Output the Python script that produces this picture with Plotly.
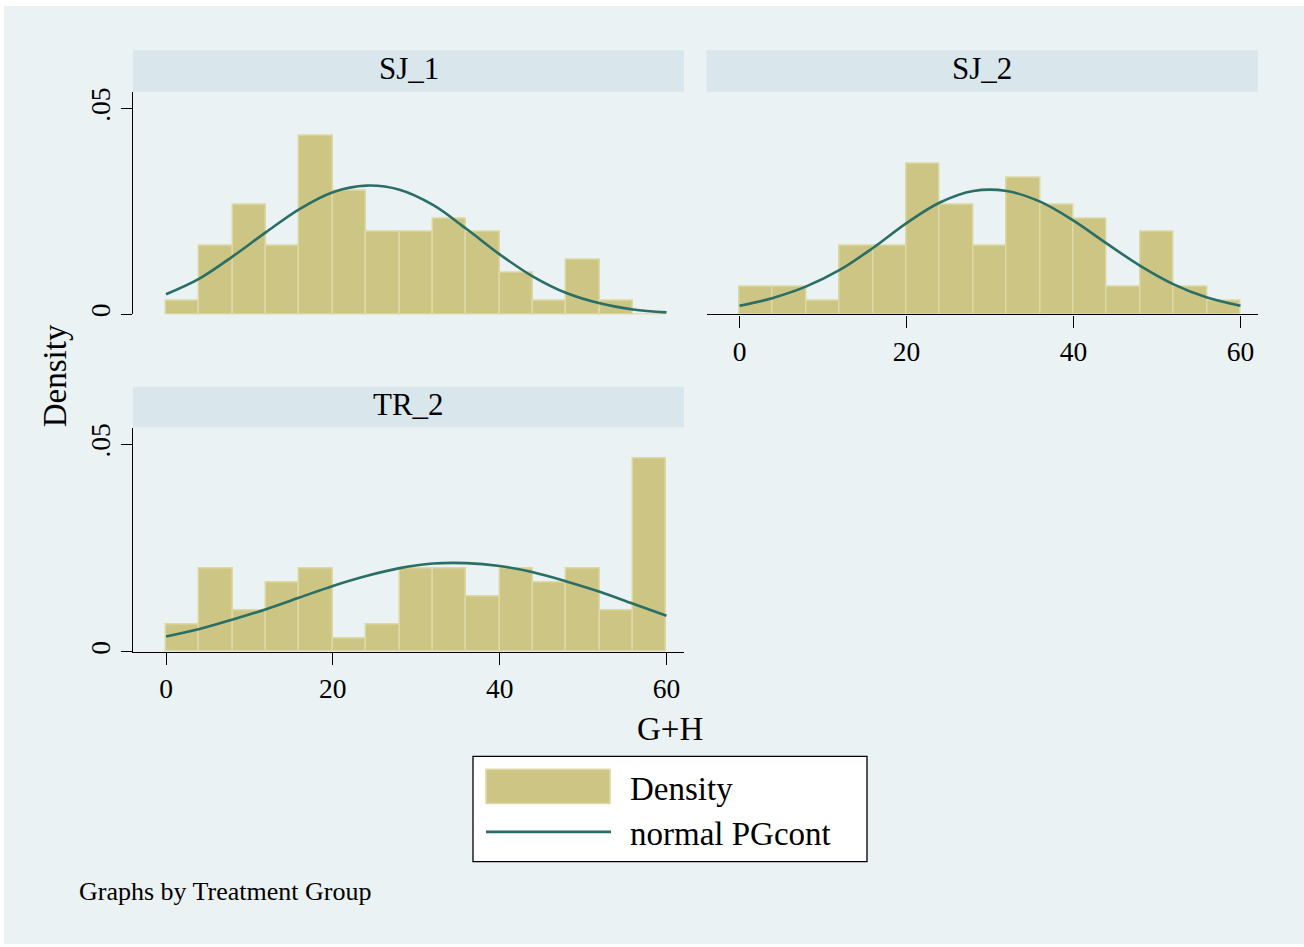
import plotly.graph_objects as go

# ---------------- data ----------------
bin_left = [0, 4, 8, 12, 16, 20, 24, 28, 32, 36, 40, 44, 48, 52, 56]
bin_width = 4
panels = ["SJ_1", "SJ_2", "TR_2"]

dens_sj1 = [0.0033, 0.0167, 0.0267, 0.0167, 0.0433, 0.0300, 0.0200, 0.0200,
            0.0233, 0.0200, 0.0100, 0.0033, 0.0133, 0.0033, 0.0]
dens_sj2 = [0.0067, 0.0067, 0.0033, 0.0167, 0.0167, 0.0367, 0.0267, 0.0167,
            0.0333, 0.0267, 0.0233, 0.0067, 0.0200, 0.0067, 0.0033]
dens_tr2 = [0.0067, 0.0200, 0.0100, 0.0167, 0.0200, 0.0033, 0.0067, 0.0200,
            0.0200, 0.0133, 0.0200, 0.0167, 0.0200, 0.0100, 0.0467]

curve_x = [0, 4, 8, 12, 16, 20, 24, 28, 32, 36, 40, 44, 48, 52, 56, 60]
curve_sj1 = [0.0049, 0.0087, 0.0141, 0.0200, 0.0256, 0.0297, 0.0313, 0.0303,
             0.0266, 0.0208, 0.0146, 0.0092, 0.0052, 0.0027, 0.0012, 0.0005]
curve_sj2 = [0.0021, 0.0040, 0.0068, 0.0108, 0.0162, 0.0222, 0.0272, 0.0300,
             0.0300, 0.0274, 0.0228, 0.0172, 0.0118, 0.0073, 0.0041, 0.0021]
curve_tr2 = [0.0037, 0.0055, 0.0078, 0.0103, 0.0131, 0.0159, 0.0183, 0.0202,
             0.0213, 0.0214, 0.0207, 0.0192, 0.0170, 0.0145, 0.0116, 0.0087]

x_ticks = [0, 20, 40, 60]
x_ticktext = ["0", "20", "40", "60"]
y_ticks = [0, 0.05]
y_ticktext = ["0", ".05"]

x_title = "G+H"
y_title = "Density"
legend_labels = ["Density", "normal PGcont"]
note = "Graphs by Treatment Group"

# ---------------- style ----------------
W, H = 1304, 947
FONT = "Liberation Serif, Times New Roman, serif"
BG = "#EAF2F3"
STRIP = "#D9E6EB"
BAR = "#CCC584"
BAR_EDGE = "#DDD9A4"
LINE = "#2A6E66"

def px(x):
    return x / W

def py(y):
    return 1 - y / H

centers = [b + bin_width / 2 for b in bin_left]

fig = go.Figure()
series = [(dens_sj1, curve_sj1, "x", "y"),
          (dens_sj2, curve_sj2, "x2", "y2"),
          (dens_tr2, curve_tr2, "x3", "y3")]
for dens, curve, xa, ya in series:
    fig.add_trace(go.Bar(x=centers, y=dens, width=bin_width, xaxis=xa, yaxis=ya,
                         marker=dict(color=BAR, line=dict(color=BAR_EDGE, width=1.5)),
                         showlegend=False, hoverinfo="x+y"))
    fig.add_trace(go.Scatter(x=curve_x, y=curve, mode="lines", xaxis=xa, yaxis=ya,
                             line=dict(color=LINE, width=2.6, shape="spline"),
                             showlegend=False))

XR = [-3.96, 62.1]
YR = [0, 0.0541]
left_dom = [px(133), px(684)]
right_dom = [px(706.5), px(1258)]
top_dom = [py(312.7), py(88.5)]
bot_dom = [py(652.7), py(426.7)]

tickfont = dict(family=FONT, size=27.5, color="black")

def xaxis_cfg(domain, anchor, show):
    d = dict(domain=domain, range=XR, anchor=anchor, showgrid=False, zeroline=False,
             fixedrange=True)
    if show:
        d.update(tickmode="array", tickvals=x_ticks, ticktext=x_ticktext,
                 ticks="outside", ticklen=12, tickwidth=1.3, tickcolor="black",
                 showline=True, linecolor="black", linewidth=1.3, tickfont=tickfont,
                 showticklabels=True)
    else:
        d.update(showticklabels=False, ticks="", showline=False)
    return d

def yaxis_cfg(domain, anchor, show):
    d = dict(domain=domain, range=YR, anchor=anchor, zeroline=False, fixedrange=True,
             tickmode="array", tickvals=[0.05], showgrid=True, gridcolor=BG, gridwidth=2)
    if show:
        d.update(tickvals=y_ticks, ticktext=y_ticktext, ticks="outside", ticklen=11,
                 tickwidth=1.3, tickcolor="black", showline=True, linecolor="black",
                 linewidth=1.3, tickangle=-90, tickfont=tickfont, showticklabels=True)
    else:
        d.update(showticklabels=False, ticks="", showline=False)
    return d

fig.update_layout(
    width=W, height=H, autosize=False,
    margin=dict(l=0, r=0, t=0, b=0, pad=0),
    paper_bgcolor="white", plot_bgcolor="white",
    bargap=0,
    xaxis=xaxis_cfg(left_dom, "y", False),
    yaxis=yaxis_cfg(top_dom, "x", True),
    xaxis2=xaxis_cfg(right_dom, "y2", True),
    yaxis2=yaxis_cfg(top_dom, "x2", False),
    xaxis3=xaxis_cfg(left_dom, "y3", True),
    yaxis3=yaxis_cfg(bot_dom, "x3", True),
    showlegend=False,
)

shapes = []
# graph region background (thin white border at top/left)
shapes.append(dict(type="rect", xref="paper", yref="paper", layer="below",
                   x0=px(4), x1=1, y0=0, y1=py(2), fillcolor=BG, line=dict(width=0)))
# strips
strips = [(133, 684, 46.7, 88.3), (706.5, 1258, 46.7, 88.3), (133, 684, 385.5, 426.5)]
annotations = []
for (x0, x1, y0, y1), name in zip(strips, panels):
    shapes.append(dict(type="rect", xref="paper", yref="paper", layer="below",
                       x0=px(x0), x1=px(x1), y0=py(y1), y1=py(y0),
                       fillcolor=STRIP, line=dict(width=0)))
    annotations.append(dict(text=name, xref="paper", yref="paper",
                            x=px((x0 + x1) / 2), y=py((y0 + y1) / 2 - 3),
                            xanchor="center", yanchor="middle", showarrow=False,
                            font=dict(family=FONT, size=31, color="black")))

# axis titles
annotations.append(dict(text=y_title, xref="paper", yref="paper", x=px(55), y=py(375),
                        textangle=-90, xanchor="center", yanchor="middle", showarrow=False,
                        font=dict(family=FONT, size=33, color="black")))
annotations.append(dict(text=x_title, xref="paper", yref="paper", x=px(670), y=py(730),
                        xanchor="center", yanchor="middle", showarrow=False,
                        font=dict(family=FONT, size=33, color="black")))

# legend box
shapes.append(dict(type="rect", xref="paper", yref="paper",
                   x0=px(473), x1=px(867), y0=py(864), y1=py(758),
                   fillcolor="white", line=dict(color="black", width=1.3)))
shapes.append(dict(type="rect", xref="paper", yref="paper",
                   x0=px(486), x1=px(610), y0=py(805.5), y1=py(771),
                   fillcolor=BAR, line=dict(color=BAR_EDGE, width=1.5)))
shapes.append(dict(type="line", xref="paper", yref="paper",
                   x0=px(486), x1=px(611), y0=py(834), y1=py(834),
                   line=dict(color=LINE, width=2.8)))
annotations.append(dict(text=legend_labels[0], xref="paper", yref="paper", x=px(628), y=py(791),
                        xanchor="left", yanchor="middle", showarrow=False,
                        font=dict(family=FONT, size=33, color="black")))
annotations.append(dict(text=legend_labels[1], xref="paper", yref="paper", x=px(628), y=py(836),
                        xanchor="left", yanchor="middle", showarrow=False,
                        font=dict(family=FONT, size=33, color="black")))
# note
annotations.append(dict(text=note, xref="paper", yref="paper", x=px(77), y=py(894),
                        xanchor="left", yanchor="middle", showarrow=False,
                        font=dict(family=FONT, size=26, color="black")))

fig.update_layout(shapes=shapes, annotations=annotations)
fig.write_html("out.html", config={"displayModeBar": False})
